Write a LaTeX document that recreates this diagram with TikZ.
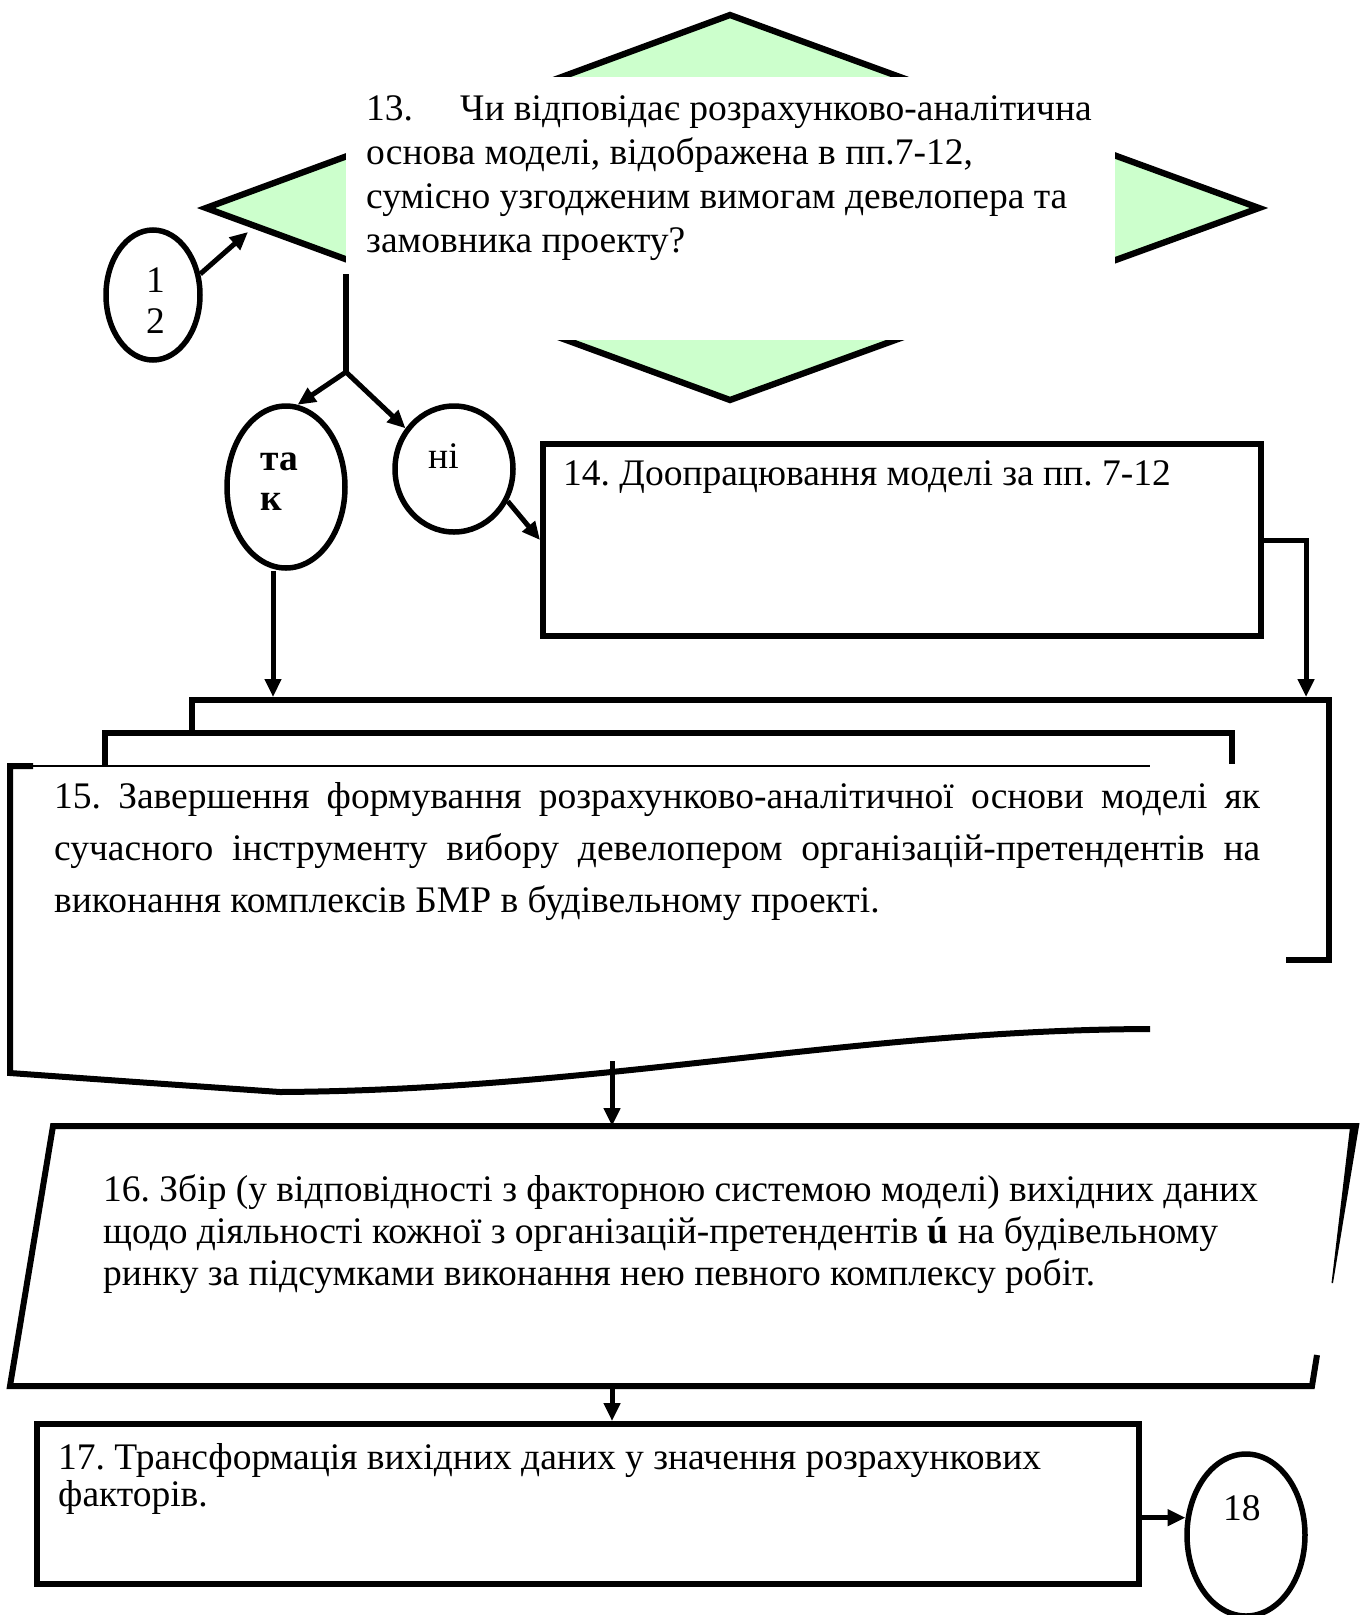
\documentclass[tikz,border=0pt]{standalone}
\usepackage{fontspec}
\setmainfont{Liberation Serif}
\usetikzlibrary{arrows.meta,shapes.geometric,calc}
\definecolor{dgreen}{HTML}{CCFFCC}
\begin{document}
\frenchspacing
\begin{tikzpicture}[x=1pt,y=-1pt,line join=miter,
  txt/.style={anchor=base west,inner sep=0,font=\fontsize{37.5}{43}\selectfont},
  bx/.style={draw,line width=6pt,inner sep=0,anchor=north west},
  ell/.style={draw,ellipse,line width=5.5pt,inner sep=0},
  arr/.style={line width=5pt,-{Triangle[length=18pt,width=16pt]}},
  ln/.style={line width=5.5pt},
  thick6/.style={line width=6pt}]
\useasboundingbox (0,0) rectangle (1365,1615);

% decision 13
\coordinate (dT) at (730,15);
\coordinate (dR) at (1259,208);
\coordinate (dB) at (730,400);
\coordinate (dL) at (206,208);
\draw[fill=dgreen,line width=6.3pt] (dT) -- (dR) -- (dB) -- (dL) -- cycle;
\fill[white] (346,77) rectangle (1115,340);
\node[txt] (t13a) at (366,120) {\makebox[94pt][l]{13.}Чи відповідає розрахунково-аналітична};
\node[txt] (t13b) at (366,164) {основа моделі, відображена в пп.7-12,};
\node[txt] (t13c) at (366,208) {сумісно узгодженим вимогам девелопера та};
\node[txt] (t13d) at (366,252) {замовника проекту?};

% connector 12
\node[ell,minimum width=94pt,minimum height=130pt] (e12) at (153,295) {};
\node[txt] (t12a) at (146,292) {1};
\node[txt] (t12b) at (146,333) {2};
\coordinate (dIn) at (248,232);
\draw[arr] (e12.24) -- (dIn);

% branches
\coordinate (stemTop) at (346,274);
\coordinate (br) at (346,372);
\draw[ln] (stemTop) -- (br);
\node[ell,minimum width=118pt,minimum height=162pt] (tak) at (286,487) {};
\node[txt,font=\fontsize{37.5}{43}\selectfont\bfseries] (tak1) at (260,470) {та};
\node[txt,font=\fontsize{37.5}{43}\selectfont\bfseries] (tak2) at (260,510) {к};
\node[ell,minimum width=118pt,minimum height=126pt] (ni) at (454,469) {};
\node[txt] (nit) at (428,468) {ні};
\draw[arr] (br) -- (tak.82);
\draw[arr] (br) -- (ni.140);

% box 14
\node[bx,minimum width=718pt,minimum height=192pt] (b14) at (540,441) {};
\node[txt] (t14) at (563,485) {14. Доопрацювання моделі за пп. 7-12};
\draw[arr] (ni.-31) -- (b14.west);

% box 15 (stacked documents)
\draw[thick6] (192,733) -- (192,700) -- (1329,700) -- (1329,960) -- (1286,960);
\draw[thick6] (105,766) -- (105,733) -- (1232,733) -- (1232,764);
\draw[line width=2.5pt] (33,766) -- (1150,766);
\draw[thick6] (33,766) -- (10,766) -- (10,1073) .. controls (150,1083) .. (280,1092)
   .. controls (600,1090) and (850,1030) .. (1150,1029);
\coordinate (r15) at (1306,697);
\coordinate (l15) at (273,697);
\draw[arr] (b14.east) -| (r15);
\draw[arr] (tak.south -| l15) -- (l15);
\node[txt] (t15a) at (54,808) {\makebox[1206pt][s]{15. Завершення формування розрахунково-аналітичної основи моделі як}};
\node[txt] (t15b) at (54,860) {\makebox[1206pt][s]{сучасного інструменту вибору девелопером організацій-претендентів на}};
\node[txt] (t15c) at (54,912) {виконання комплексів БМР в будівельному проекті.};

% box 16
\coordinate (c15b) at (612,1061);
\coordinate (qTR) at (1355,1126);
\coordinate (qTL) at (53,1126);
\coordinate (qBL) at (10,1386);
\coordinate (qBR) at (1312,1386);
\coordinate (q2) at (1317,1355);
\draw[thick6] (qTR) -- (qTL) -- (qBL) -- (qBR) -- (q2);
\fill (1350.5,1123) -- (1359.5,1123) -- (1333,1283) -- (1331.5,1283) -- cycle;
\draw[arr] (c15b) -- (c15b |- qTL);
\node[txt] (t16a) at (103,1201) {16. Збір (у відповідності з факторною системою моделі) вихідних даних};
\node[txt] (t16b) at (103,1243) {щодо діяльності кожної з організацій-претендентів \textbf{ú} на будівельному};
\node[txt] (t16c) at (103,1285) {ринку за підсумками виконання нею певного комплексу робіт.};

% box 17
\node[bx,minimum width=1102pt,minimum height=160pt] (b17) at (34,1421) {};
\draw[arr] (c15b |- qBL) -- (c15b |- b17.north);
\node[txt] (t17a) at (58,1469) {17. Трансформація вихідних даних у значення розрахункових};
\node[txt] (t17b) at (58,1506) {факторів.};

% connector 18
\node[ell,minimum width=118pt,minimum height=162pt] (e18) at (1246,1535) {};
\node[txt] (t18) at (1223,1520) {18};
\draw[arr] (b17.east |- e18.164) -- (e18.164);
\end{tikzpicture}
\end{document}
